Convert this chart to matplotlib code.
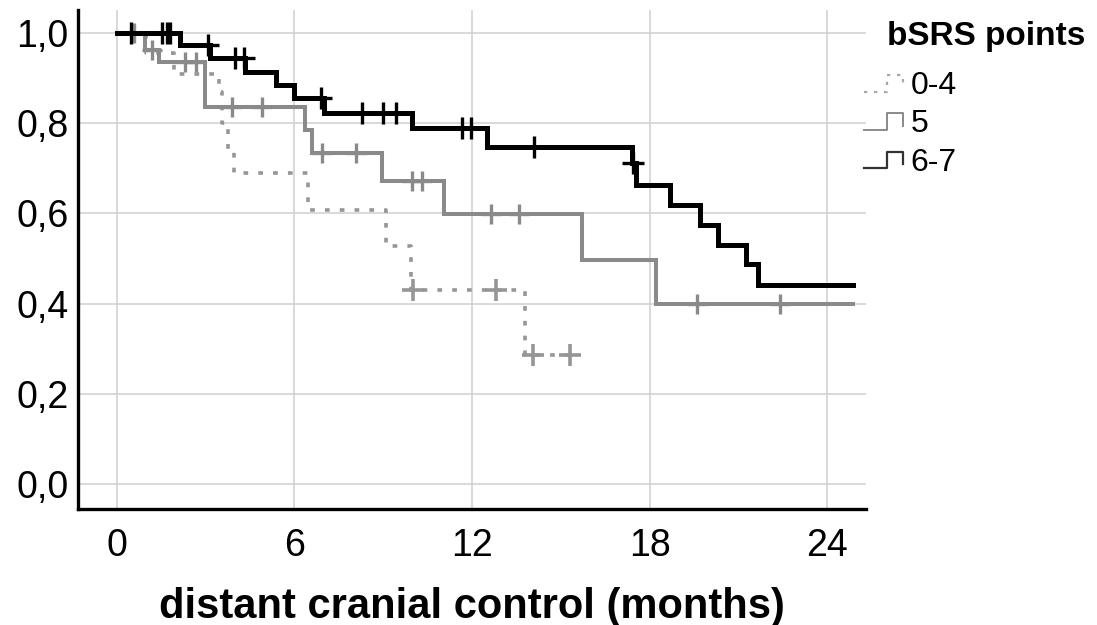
import numpy as np
import matplotlib
matplotlib.use("Agg")
import matplotlib.pyplot as plt
from matplotlib.lines import Line2D
from matplotlib.legend_handler import HandlerBase

plt.rcParams['font.family'] = ['Liberation Sans', 'DejaVu Sans']

# ---------------- data ----------------
groups = ["0-4", "5", "6-7"]

# group 6-7 (black)
t_67 = [0.0, 2.15, 3.17, 4.35, 5.4, 6.0, 7.0, 9.97, 12.5, 17.4, 17.55, 18.7, 19.7, 20.3, 21.25, 21.65]
s_67 = [1.0, 0.973, 0.945, 0.914, 0.885, 0.856, 0.823, 0.789, 0.748, 0.712, 0.664, 0.619, 0.575, 0.531, 0.487, 0.442]
end_67 = 24.85
cens_67 = [0.5, 1.55, 1.7, 1.8, 3.1, 4.0, 4.3, 6.9, 8.3, 9.0, 9.45, 11.65, 11.95, 14.1, 17.45]

# group 5 (gray)
t_5 = [0.0, 0.95, 1.45, 3.0, 6.35, 6.6, 8.95, 11.05, 15.72, 18.2]
s_5 = [1.0, 0.962, 0.935, 0.836, 0.785, 0.734, 0.673, 0.598, 0.498, 0.40]
end_5 = 24.85
cens_5 = [0.6, 1.2, 2.3, 2.7, 3.9, 4.9, 6.95, 8.1, 9.97, 10.3, 12.65, 13.6, 19.6, 22.4]

# group 0-4 (dotted)
t_04 = [0.0, 1.0, 1.95, 3.45, 3.55, 3.75, 3.95, 6.45, 9.1, 9.95, 13.8]
s_04 = [1.0, 0.955, 0.91, 0.87, 0.80, 0.74, 0.69, 0.608, 0.527, 0.43, 0.287]
end_04 = 15.3
cens_04 = [10.0, 12.8, 14.05, 15.3]

x_ticks = [0, 6, 12, 18, 24]
y_ticks = [0.0, 0.2, 0.4, 0.6, 0.8, 1.0]
y_ticklabels = ["0,0", "0,2", "0,4", "0,6", "0,8", "1,0"]

# ---------------- styles ----------------
styles = {
    "6-7": dict(color="#000000", lw=3.6, ls="-", mew=2.4, ms=16),
    "5": dict(color="#8a8a8a", lw=2.9, ls="-", mew=2.4, ms=15),
    "0-4": dict(color="#969696", lw=2.6, ls=(0, (1.3, 2.8)), mew=2.6, ms=16),
}

fig = plt.figure(figsize=(10.97, 6.25), dpi=100)
ax = fig.add_axes([78 / 1097, 1 - 509 / 625, (866 - 78) / 1097, (509 - 10) / 625])

ax.set_xlim(-1.3, 25.3)
ax.set_ylim(-0.055, 1.051)

ax.set_xticks(x_ticks)
ax.set_yticks(y_ticks)
ax.set_yticklabels(y_ticklabels)
ax.grid(True, color="#cfcfcf", lw=1.1)
ax.set_axisbelow(True)
for sp in ["top", "right"]:
    ax.spines[sp].set_visible(False)
for sp in ["left", "bottom"]:
    ax.spines[sp].set_linewidth(2.4)
    ax.spines[sp].set_color("black")
ax.tick_params(axis="both", length=0, labelsize=27)
ax.tick_params(axis="y", pad=7)
ax.tick_params(axis="x", pad=14)


def draw(t, s, end, cens, st, z):
    xs = list(t) + [end]
    ys = list(s) + [s[-1]]
    ax.step(xs, ys, where="post", color=st["color"], lw=st["lw"], ls=st["ls"], zorder=z,
            solid_joinstyle="miter")
    ta = np.asarray(t)
    sa = np.asarray(s)
    idx = np.searchsorted(ta, np.asarray(cens), side="right") - 1
    ax.plot(cens, sa[idx], ls="none", marker="+", ms=st["ms"], mew=st["mew"],
            color=st["color"], zorder=z + 0.5)


draw(t_04, s_04, end_04, cens_04, styles["0-4"], 3)
draw(t_5, s_5, end_5, cens_5, styles["5"], 4)
draw(t_67, s_67, end_67, cens_67, styles["6-7"], 5)

ax.set_xlabel("distant cranial control (months)", fontsize=30, fontweight="bold", labelpad=16)


# ---------------- legend ----------------
class StepHandler(HandlerBase):
    def __init__(self, color, ls, lw):
        super().__init__()
        self.c = color
        self.ls = ls
        self.lw = lw

    def create_artists(self, legend, orig_handle, xdescent, ydescent, width, height, fontsize, trans):
        x0 = -xdescent
        y0 = -ydescent
        xs = [x0, x0 + 0.55 * width, x0 + 0.55 * width, x0 + 0.93 * width, x0 + 0.93 * width]
        ys = [y0 + 0.1 * height, y0 + 0.1 * height, y0 + 0.85 * height, y0 + 0.85 * height, y0 + 0.3 * height]
        ln = Line2D(xs, ys, color=self.c, linestyle=self.ls, linewidth=self.lw)
        ln.set_transform(trans)
        return [ln]


handles = []
hmap = {}
leg_cols = {"0-4": ("#a8a8a8", (0, (1.5, 3)), 1.6), "5": ("#8a8a8a", "-", 1.4), "6-7": ("#333333", "-", 1.6)}
for g in groups:
    h = Line2D([], [], color=leg_cols[g][0])
    handles.append(h)
    hmap[h] = StepHandler(*leg_cols[g])

fig.text(887 / 1097, 1 - 36 / 625, "bSRS points", fontsize=24, fontweight="bold",
         ha="left", va="center")
leg = fig.legend(handles, groups, handler_map=hmap, loc="upper left",
                 bbox_to_anchor=(864 / 1097, 1 - 71 / 625), bbox_transform=fig.transFigure,
                 frameon=False, fontsize=23, handlelength=1.3, handletextpad=0.15,
                 labelspacing=0.26, borderpad=0, borderaxespad=0)

fig.savefig("out.png", dpi=100)
